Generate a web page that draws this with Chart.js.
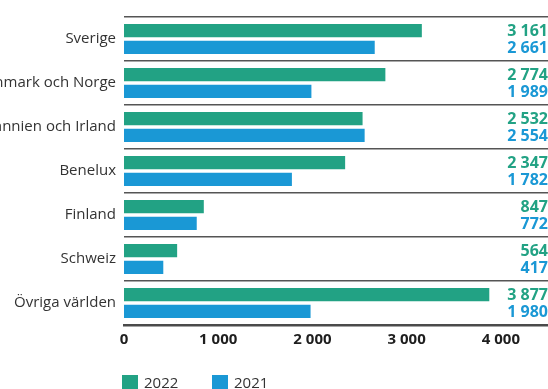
<!DOCTYPE html>
<html>
<head>
<meta charset="utf-8">
<script src="https://cdn.jsdelivr.net/npm/chart.js@4/dist/chart.umd.min.js"></script>
<style>
    html, body { margin: 0; padding: 0; background: #fff; }
    #wrap { width: 548px; height: 389px; }
</style>
</head>
<body>
<div id="wrap"><canvas id="MarketChart" width="548" height="389"></canvas></div>
<script>
const categories = ['Sverige', 'Danmark och Norge', 'Storbritannien och Irland', 'Benelux', 'Finland', 'Schweiz', 'Övriga världen'];
const values2022 = [3161, 2774, 2532, 2347, 847, 564, 3877];
const values2021 = [2661, 1989, 2554, 1782, 772, 417, 1980];
const seriesLabels = ['2022', '2021'];
const xTicks = [0, 1000, 2000, 3000, 4000];

const green = '#22a284';
const blue = '#1a98d5';
const fontFamily = '"Open Sans", "Noto Sans", sans-serif';

function formatNumber(v) {
    return String(v).replace(/\B(?=(\d{3})+(?!\d))/g, ' ');
}

// values printed at the right edge, one per bar
const valueLabels = {
    id: 'valueLabels',
    afterDatasetsDraw(chart) {
        const ctx = chart.ctx;
        const right = chart.chartArea.right;
        ctx.save();
        ctx.font = 'bold 16px ' + fontFamily;
        ctx.textAlign = 'right';
        ctx.textBaseline = 'middle';
        chart.data.datasets.forEach(function (ds, i) {
            const meta = chart.getDatasetMeta(i);
            ctx.fillStyle = ds.backgroundColor;
            meta.data.forEach(function (bar, j) {
                ctx.fillText(formatNumber(ds.data[j]), right, bar.y + 1);
            });
        });
        ctx.restore();
    }
};

// simple legend under the axis, left aligned with the plot
const bottomLegend = {
    id: 'bottomLegend',
    afterDraw(chart) {
        const ctx = chart.ctx;
        let x = chart.chartArea.left - 2;
        ctx.save();
        ctx.font = '15px ' + fontFamily;
        ctx.textBaseline = 'alphabetic';
        chart.data.datasets.forEach(function (ds) {
            ctx.fillStyle = ds.backgroundColor;
            ctx.fillRect(x, 375, 16, 16);
            ctx.fillStyle = '#333';
            ctx.fillText(ds.label, x + 22, 388);
            x += 90;
        });
        ctx.restore();
    }
};

window.onload = function () {
    const ctx = document.getElementById('MarketChart').getContext('2d');

    new Chart(ctx, {
        type: 'bar',
        data: {
            labels: categories,
            datasets: [
                { label: seriesLabels[0], data: values2022, backgroundColor: green, borderWidth: 0 },
                { label: seriesLabels[1], data: values2021, backgroundColor: blue, borderWidth: 0 }
            ]
        },
        options: {
            indexAxis: 'y',
            responsive: false,
            animation: false,
            devicePixelRatio: 1,
            layout: { padding: { top: 12, right: 0, bottom: 0, left: 0 } },
            datasets: {
                bar: { categoryPercentage: 0.76, barPercentage: 0.78 }
            },
            plugins: {
                legend: { display: false },
                tooltip: { enabled: false }
            },
            scales: {
                x: {
                    min: 0,
                    max: 4500,
                    afterBuildTicks: function (scale) {
                        scale.ticks = xTicks.map(function (v) { return { value: v }; });
                    },
                    afterFit: function (scale) { scale.height = 64; },
                    grid: { display: false, drawTicks: false },
                    border: { display: true, color: '#4a4a4a', width: 2.5 },
                    ticks: {
                        padding: 6,
                        color: '#1e1e1e',
                        font: { family: fontFamily, size: 15, weight: 'bold' },
                        callback: function (v) { return formatNumber(v); }
                    }
                },
                y: {
                    afterFit: function (scale) { scale.width = 124; },
                    grid: { color: '#555', lineWidth: 1.6, drawTicks: false, offset: true },
                    border: { display: false },
                    ticks: {
                        padding: 8,
                        color: '#333',
                        font: { family: fontFamily, size: 15 }
                    }
                }
            }
        },
        plugins: [valueLabels, bottomLegend]
    });
};
</script>
</body>
</html>
